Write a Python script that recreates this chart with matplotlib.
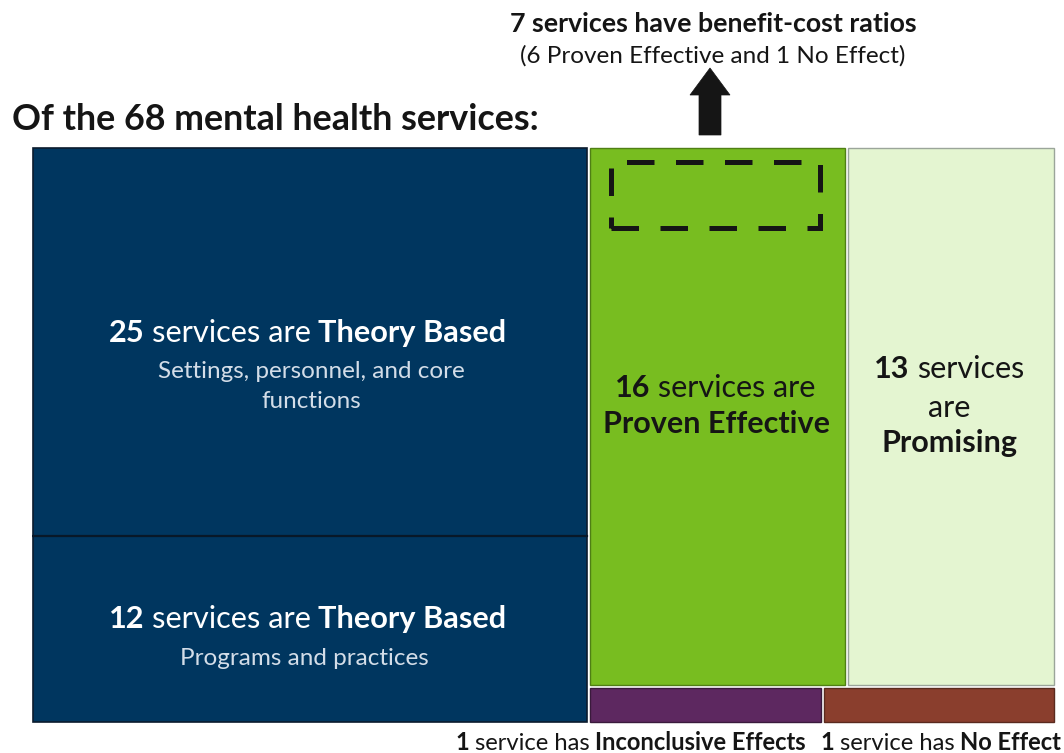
import matplotlib
matplotlib.use("Agg")
import matplotlib.pyplot as plt
from matplotlib.patches import Rectangle, Polygon

plt.rcParams['font.family'] = ['Lato', 'DejaVu Sans']

# ---------------- data ----------------
total_services = 68
theory_counts = [25, 12]                      # top, bottom navy blocks
theory_subtitles = ["Settings, personnel, and core\nfunctions", "Programs and practices"]
proven_count = 16
promising_count = 13
inconclusive_count = 1
no_effect_count = 1
bcr_count = 7
bcr_proven = 6
bcr_no_effect = 1

# ---------------- colours ----------------
NAVY, NAVY_EDGE = "#00365F", "#0B1B2E"
GREEN, GREEN_EDGE = "#78BD20", "#4F7F14"
LIGHT, LIGHT_EDGE = "#E4F5D1", "#9BA59A"
PURPLE, PURPLE_EDGE = "#5D2860", "#3A1A3C"
BROWN, BROWN_EDGE = "#8A3E2D", "#5A2A1E"
DARK = "#151515"
SUB = "#D3DDE8"

W, H = 1064, 753
fig = plt.figure(figsize=(W / 100, H / 100), dpi=100)
fig.patch.set_facecolor("white")

# treemap axes (data units: services horizontally, fraction vertically)
left_px, right_px, top_px, bot_px = 31.5, 1055.5, 146.5, 723.5
ax = fig.add_axes([left_px / W, 1 - bot_px / H, (right_px - left_px) / W, (bot_px - top_px) / H])
ax.set_xlim(0, total_services)
ax.set_ylim(0, 1)
ax.axis("off")

gx = 1.5 * total_services / (right_px - left_px)
gy = 1.5 / (bot_px - top_px)


def block(x0, y0, x1, y1, fc, ec, lw=1.0, inset=(1, 1, 1, 1)):
    l, r, b, t = inset
    ax.add_patch(Rectangle((x0 + l * gx, y0 + b * gy),
                           (x1 - x0) - (l + r) * gx, (y1 - y0) - (b + t) * gy,
                           facecolor=fc, edgecolor=ec, lw=lw))


theory_total = sum(theory_counts)
right_total = total_services - theory_total
bottom_total = inconclusive_count + no_effect_count
top_total = proven_count + promising_count

# left column
y_split = theory_counts[1] / theory_total
block(0, y_split, theory_total, 1, NAVY, NAVY_EDGE, 1.2, inset=(1, 1, 0, 1))
block(0, 0, theory_total, y_split, NAVY, NAVY_EDGE, 1.2, inset=(1, 1, 1, 0))
ax.plot([0 + gx, theory_total - gx], [y_split, y_split], color="#081828", lw=1.6)

# right column
strip_h = bottom_total / right_total
x_pe_end = theory_total + right_total * proven_count / top_total
block(theory_total, strip_h, x_pe_end, 1, GREEN, GREEN_EDGE, 1.0)
block(x_pe_end, strip_h, total_services, 1, LIGHT, LIGHT_EDGE, 1.0)
x_inc_end = theory_total + right_total * inconclusive_count / bottom_total
block(theory_total, 0, x_inc_end, strip_h, PURPLE, PURPLE_EDGE, 1.0)
block(x_inc_end, 0, total_services, strip_h, BROWN, BROWN_EDGE, 1.0)

# dashed box in the proven block (benefit-cost subset marker)
pe_w = x_pe_end - theory_total
bx0 = theory_total + 0.085 * pe_w
bx1 = theory_total + 0.90 * pe_w
by0, by1 = 0.859, 0.974
ax.add_patch(Rectangle((bx0, by0), bx1 - bx0, by1 - by0, fill=False,
                       edgecolor=DARK, lw=3.6, linestyle=(0, (5.5, 4.3)),
                       joinstyle="miter", capstyle="butt"))

# overlay axes in pixel coordinates for texts and arrow
ov = fig.add_axes([0, 0, 1, 1], facecolor="none")
ov.set_xlim(0, W)
ov.set_ylim(H, 0)
ov.axis("off")

ov.add_patch(Polygon([(710, 68), (730, 95), (721, 95), (721, 135),
                      (699, 135), (699, 95), (690, 95)], closed=True,
                     facecolor=DARK, edgecolor=DARK, lw=0.5))

renderer = fig.canvas.get_renderer()


def width_of(txt, size, weight):
    t = ov.text(0, 0, txt, fontsize=size, fontweight=weight)
    w = t.get_window_extent(renderer=renderer).width
    t.remove()
    return w


def line_width(parts, size):
    ws = [width_of(p, size, wt) for p, wt in parts]
    sp = [width_of("a a", size, wt) - width_of("aa", size, wt) for p, wt in parts]
    return ws, sp


def fit(parts, target):
    base = 20.0
    ws, sp = line_width(parts, base)
    total = sum(ws) + sum(sp[1:])
    return base * target / total


def rich(x, y, parts, size, color, ha="center"):
    ws, sp = line_width(parts, size)
    total = sum(ws) + sum(sp[1:])
    cx = x - total / 2 if ha == "center" else x
    for i, ((p, wt), w) in enumerate(zip(parts, ws)):
        if i > 0:
            cx += sp[i]
        ov.text(cx, y, p, fontsize=size, fontweight=wt, color=color,
                ha="left", va="baseline")
        cx += w


B, R = "bold", "normal"

# title
title = [("Of the %d mental health services:" % total_services, B)]
rich(12, 130, title, fit(title, 528), DARK, ha="left")

# benefit-cost annotation
l1 = [("%d services have benefit-cost ratios" % bcr_count, B)]
rich(713.5, 32, l1, fit(l1, 407), DARK)
l2 = [("(%d Proven Effective and %d No Effect)" % (bcr_proven, bcr_no_effect), R)]
rich(712.5, 63, l2, fit(l2, 385), DARK)

# navy blocks
head = [(str(theory_counts[0]), B), ("services are", R), ("Theory Based", B)]
hs = fit(head, 399)
rich(307.5, 342, head, hs, "white")
sub_lines = theory_subtitles[0].split("\n")
ss = fit([(sub_lines[0], R)], 308)
rich(311, 378, [(sub_lines[0], R)], ss, SUB)
rich(311, 408, [(sub_lines[1], R)], ss, SUB)

head2 = [(str(theory_counts[1]), B), ("services are", R), ("Theory Based", B)]
rich(307.5, 628, head2, hs, "white")
rich(304, 665, [(theory_subtitles[1], R)], ss, SUB)

# proven effective
pe1 = [(str(proven_count), B), ("services are", R)]
ps = fit(pe1, 201)
rich(715.5, 397, pe1, ps, DARK)
rich(716.5, 433, [("Proven Effective", B)], ps, DARK)

# promising
pr1 = [(str(promising_count), B), ("services", R)]
rich(949.5, 378, pr1, ps, DARK)
rich(949.5, 417, [("are", R)], ps, DARK)
rich(949.5, 452, [("Promising", B)], ps, DARK)

# bottom labels
bl1 = [(str(inconclusive_count), B), ("service has", R), ("Inconclusive Effects", B)]
bs = fit(bl1, 353)
rich(455, 750, bl1, bs, DARK, ha="left")
bl2 = [(str(no_effect_count), B), ("service has", R), ("No Effect", B)]
rich(820, 750, bl2, bs, DARK, ha="left")

fig.savefig("out.png", dpi=100, facecolor="white")
